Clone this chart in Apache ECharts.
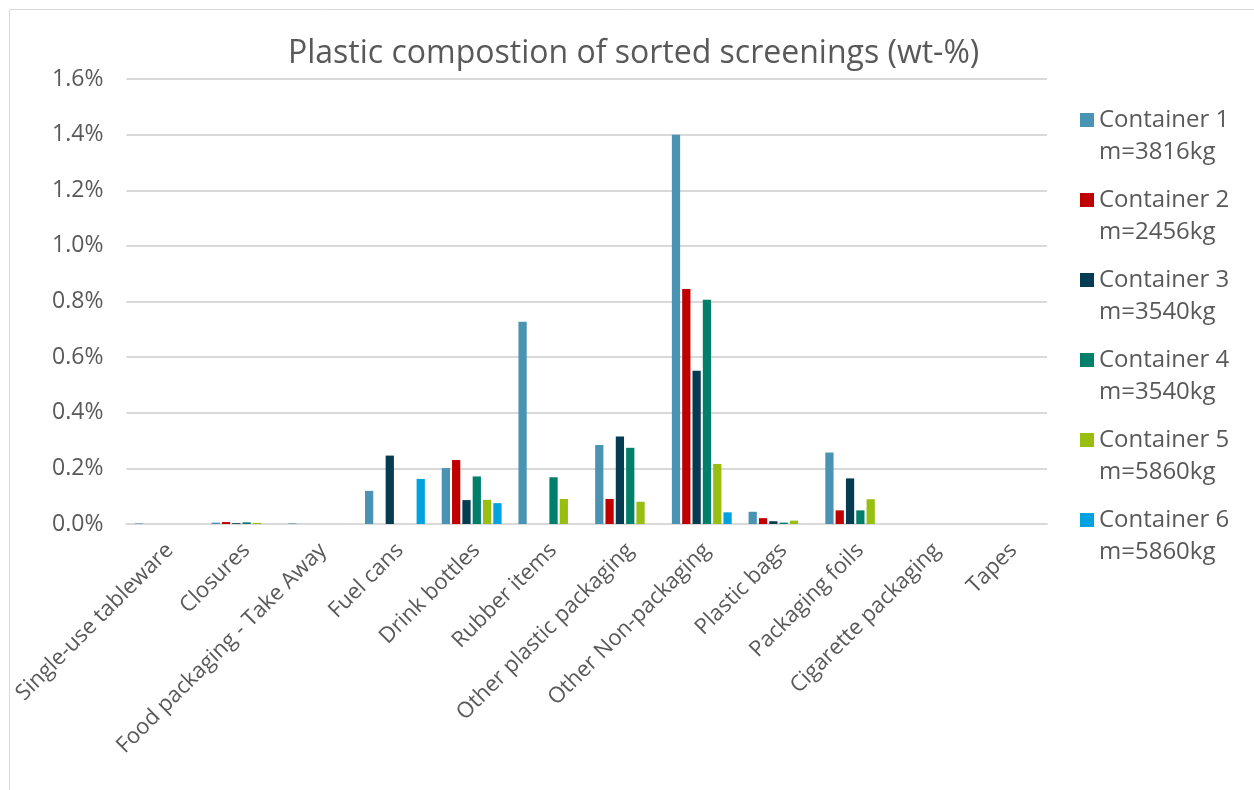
<!DOCTYPE html>
<html>
<head>
<meta charset="utf-8">
<script src="https://cdn.jsdelivr.net/npm/echarts@6/dist/echarts.min.js"></script>
<style>
  html, body { margin: 0; padding: 0; background: #ffffff; }
  #chart { width: 1254px; height: 790px; }
</style>
</head>
<body>
<div id="chart"></div>
<script>
// Plastic categories found in the sorted screenings
const categories = [
  'Single-use tableware', 'Closures', 'Food packaging - Take Away', 'Fuel cans',
  'Drink bottles', 'Rubber items', 'Other plastic packaging', 'Other Non-packaging',
  'Plastic bags', 'Packaging foils', 'Cigarette packaging', 'Tapes'
];

// Legend names (container and its mass)
const containerNames = [
  'Container 1\nm=3816kg', 'Container 2\nm=2456kg', 'Container 3\nm=3540kg',
  'Container 4\nm=3540kg', 'Container 5\nm=5860kg', 'Container 6\nm=5860kg'
];

// Share of each category in wt-%
const container1 = [0.002, 0.005, 0.002, 0.119, 0.201, 0.727, 0.284, 1.400, 0.044, 0.257, 0, 0];
const container2 = [0, 0.007, 0, 0, 0.230, 0, 0.090, 0.845, 0.021, 0.049, 0, 0];
const container3 = [0, 0.003, 0, 0.246, 0.086, 0, 0.315, 0.551, 0.010, 0.164, 0, 0];
const container4 = [0, 0.006, 0, 0, 0.171, 0.168, 0.274, 0.806, 0.005, 0.049, 0, 0];
const container5 = [0, 0.004, 0, 0, 0.087, 0.090, 0.080, 0.216, 0.012, 0.089, 0, 0];
const container6 = [0, 0, 0, 0.162, 0.075, 0, 0, 0.042, 0, 0, 0, 0];

const seriesValues = [container1, container2, container3, container4, container5, container6];
const colors = ['#4A93B2', '#C00000', '#053C51', '#007F6A', '#98BF10', '#00A3E0'];

const textColor = '#595959';
const fontFamily = '"Open Sans", "Noto Sans", sans-serif';

const chart = echarts.init(document.getElementById('chart'), null, { renderer: 'canvas' });

chart.setOption({
  animation: false,
  backgroundColor: '#ffffff',
  color: colors,
  textStyle: { fontFamily: fontFamily },
  title: {
    text: 'Plastic compostion of sorted screenings (wt-%)',
    left: 283,
    top: 33,
    textStyle: { fontFamily: fontFamily, fontSize: 32, fontWeight: 'normal', color: textColor }
  },
  graphic: [{
    type: 'polyline',
    shape: { points: [[9.5, 790], [9.5, 9.5], [1254, 9.5]] },
    style: { stroke: '#d9d9d9', lineWidth: 1, fill: null },
    silent: true
  }],
  legend: {
    orient: 'vertical',
    left: 1080,
    top: 72,
    padding: 0,
    itemWidth: 14,
    itemHeight: 14,
    itemGap: -16,
    icon: 'rect',
    // leading blank line keeps the swatch level with the first text line
    formatter: name => '\n' + name,
    textStyle: {
      fontFamily: fontFamily,
      fontSize: 24,
      color: textColor,
      lineHeight: 32
    },
    data: containerNames
  },
  grid: { left: 125, right: 207, top: 79, bottom: 266, containLabel: false },
  xAxis: {
    type: 'category',
    data: categories,
    axisLine: { show: true, lineStyle: { color: '#d9d9d9', width: 2 } },
    axisTick: { show: false },
    axisLabel: {
      rotate: 45,
      interval: 0,
      margin: 18,
      // leading blank line anchors each rotated label by its upper corner
      formatter: name => '\n' + name,
      lineHeight: 14,
      fontFamily: fontFamily,
      fontSize: 22,
      color: textColor
    }
  },
  yAxis: {
    type: 'value',
    min: 0,
    max: 1.6,
    interval: 0.2,
    axisLine: { show: false },
    axisTick: { show: false },
    splitLine: { lineStyle: { color: '#d9d9d9', width: 2 } },
    axisLabel: {
      margin: 23,
      fontFamily: fontFamily,
      fontSize: 23,
      color: textColor,
      formatter: v => v.toFixed(1) + '%'
    }
  },
  series: seriesValues.map((vals, i) => ({
    name: containerNames[i],
    type: 'bar',
    data: vals,
    barGap: '25%',
    barCategoryGap: '22%',
    itemStyle: { color: colors[i] }
  }))
});
</script>
</body>
</html>
